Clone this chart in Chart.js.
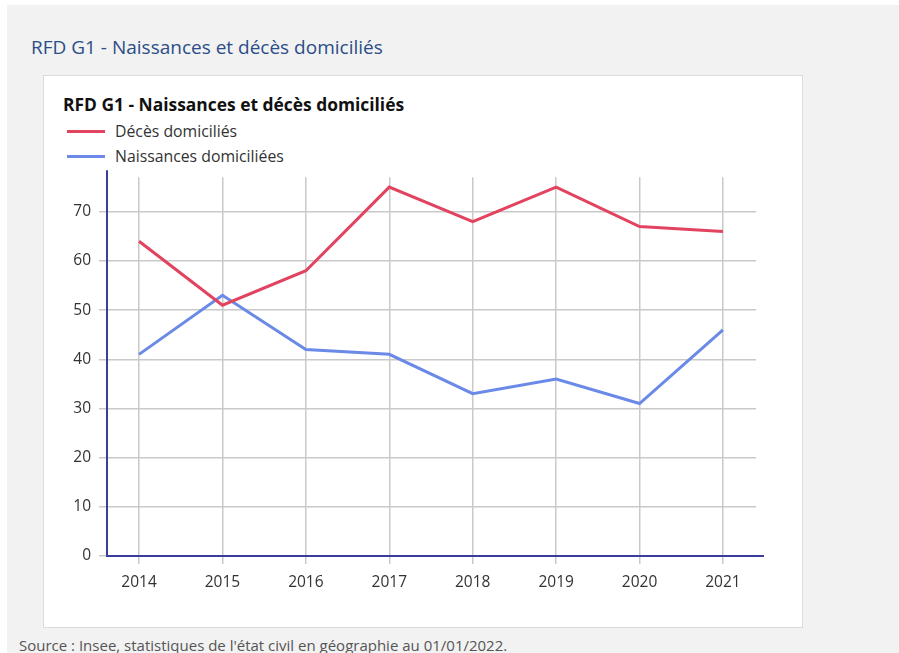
<!DOCTYPE html>
<html lang="fr">
<head>
<meta charset="utf-8">
<script src="https://cdn.jsdelivr.net/npm/chart.js@4"></script>
<style>
  body { margin: 0; background: #fff; font-family: "Open Sans", sans-serif; }
  #panel { position: absolute; left: 7px; top: 5px; width: 892px; height: 648px; background: #f2f2f2; overflow: hidden; }
  #heading { position: absolute; left: 24px; top: 29px; font-size: 19px; color: #2b4d87; white-space: nowrap; }
  #card { position: absolute; left: 36px; top: 70px; width: 758px; height: 551px; background: #fff; border: 1px solid #dcdcdc; }
  #title { position: absolute; left: 19px; top: 16px; font-size: 17.4px; font-weight: bold; color: #111; white-space: nowrap; }
  #legend { position: absolute; left: 23px; top: 43px; font-size: 15.8px; color: #333; }
  .item { height: 25px; line-height: 25px; white-space: nowrap; }
  .mark { display: inline-block; width: 38px; height: 3px; vertical-align: middle; margin-right: 10px; position: relative; top: -1px; }
  #chartBox { position: absolute; left: 0; top: 84px; width: 760px; height: 469px; }
  #source { position: absolute; left: 12px; top: 630px; font-size: 15px; color: #555; white-space: nowrap; }
</style>
</head>
<body>
<div id="panel">
  <div id="heading">RFD G1 - Naissances et décès domiciliés</div>
  <div id="card">
    <div id="title">RFD G1 - Naissances et décès domiciliés</div>
    <div id="legend"></div>
    <div id="chartBox"><canvas id="chart"></canvas></div>
  </div>
  <div id="source">Source : Insee, statistiques de l'état civil en géographie au 01/01/2022.</div>
</div>
<script>
// years on the x axis
const years = [2014, 2015, 2016, 2017, 2018, 2019, 2020, 2021]
// values
const deces = [64, 51, 58, 75, 68, 75, 67, 66]
const naissances = [41, 53, 42, 41, 33, 36, 31, 46]
const yTicks = [0, 10, 20, 30, 40, 50, 60, 70]

const seriesNames = ["Décès domiciliés", "Naissances domiciliées"]
const seriesColors = ["#e2445f", "#6b8ae8"]

function toPoints(values) {
  return values.map((v, i) => ({ x: years[i], y: v }))
}

// axis lines go a bit past the plot like in the original
const axisLines = {
  id: "axisLines",
  afterDatasetsDraw(chart) {
    const ctx = chart.ctx
    const a = chart.chartArea
    ctx.save()
    ctx.strokeStyle = "#3a3d9c"
    ctx.lineWidth = 2
    ctx.beginPath()
    ctx.moveTo(a.left, a.top - 7)
    ctx.lineTo(a.left, a.bottom)
    ctx.lineTo(a.right + 8, a.bottom)
    ctx.stroke()
    ctx.restore()
  }
}

const chart = new Chart("chart", {
  type: "line",
  data: {
    datasets: [
      { label: seriesNames[0], data: toPoints(deces), borderColor: seriesColors[0], backgroundColor: seriesColors[0] },
      { label: seriesNames[1], data: toPoints(naissances), borderColor: seriesColors[1], backgroundColor: seriesColors[1] }
    ]
  },
  options: {
    responsive: true,
    maintainAspectRatio: false,
    animation: false,
    layout: { padding: { top: 7, right: 48, left: 0, bottom: 0 } },
    elements: {
      line: { borderWidth: 3, tension: 0 },
      point: { radius: 0, hoverRadius: 0 }
    },
    plugins: {
      legend: { display: false },
      title: { display: false },
      tooltip: { enabled: false }
    },
    scales: {
      x: {
        type: "linear",
        min: 2013.616,
        max: 2021.396,
        afterBuildTicks: scale => { scale.ticks = years.map(v => ({ value: v })) },
        afterFit: scale => { scale.height = 73 },
        grid: { color: "#c9c9c9", lineWidth: 1.5, tickLength: 8 },
        border: { display: false },
        ticks: {
          color: "#333",
          padding: 9,
          font: { family: "Open Sans", size: 15.5 },
          callback: v => String(v)
        }
      },
      y: {
        min: 0,
        max: 77,
        afterBuildTicks: scale => { scale.ticks = yTicks.map(v => ({ value: v })) },
        afterFit: scale => { scale.width = 63 },
        grid: { color: "#c9c9c9", lineWidth: 1.5, tickLength: 8 },
        border: { display: false },
        ticks: {
          color: "#333",
          padding: 8,
          font: { family: "Open Sans", size: 15.5 }
        }
      }
    }
  },
  plugins: [axisLines]
})

// legend stacked vertically, built from the datasets
const legend = document.getElementById("legend")
chart.data.datasets.forEach(ds => {
  const item = document.createElement("div")
  item.className = "item"
  const mark = document.createElement("span")
  mark.className = "mark"
  mark.style.background = ds.borderColor
  item.appendChild(mark)
  item.appendChild(document.createTextNode(ds.label))
  legend.appendChild(item)
})
</script>
</body>
</html>
